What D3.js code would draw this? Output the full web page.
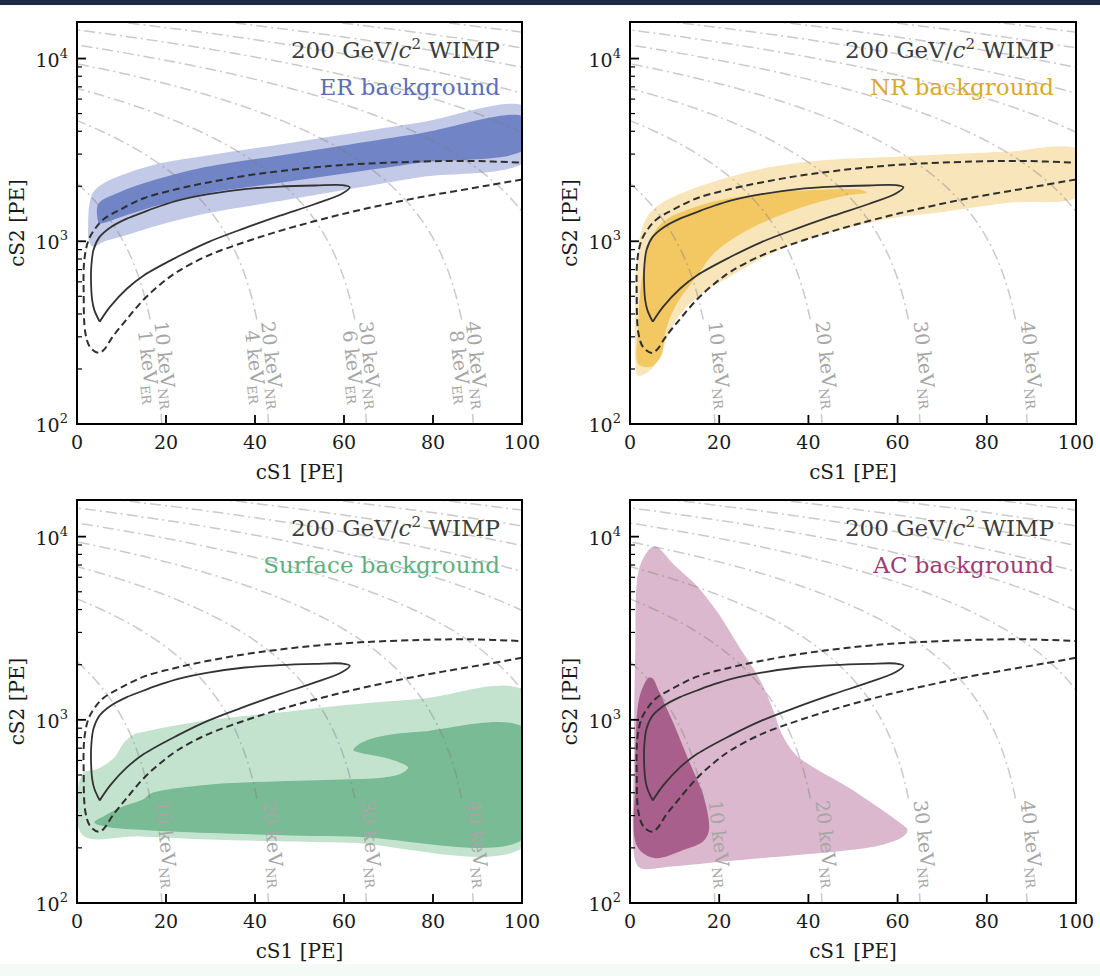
<!DOCTYPE html>
<html><head><meta charset="utf-8">
<script src="https://cdn.jsdelivr.net/npm/d3@7"></script>
<style>
body{margin:0;background:#fff}
svg{display:block}
text{font-family:"DejaVu Serif",serif}
</style>
</head><body>
<svg id="c" width="1100" height="976"></svg>
<script>
// ---------------- data ----------------
const xTicks = [0, 20, 40, 60, 80, 100];
const yDecades = [2, 3, 4];
const yMinorMultipliers = [2, 3, 4, 5, 6, 7, 8, 9];
// energy contours: cS1 intercept of each line (cS2 intercept = intercept * energySlope)
const energyIntercepts = [20, 44, 66, 90, 114, 138, 162, 186, 210, 234, 258, 282];
const energySlope = 104;
const energyLabelsNR = ["10", "20", "30", "40"];
const energyLabelsER = ["1", "4", "6", "8"];

const panelNames = ["ER background", "NR background", "Surface background", "AC background"];
const wimpTitle = ["200 GeV/", "c", "2", " WIMP"];

// WIMP 1 sigma (solid) contour, starts and ends at bottom tip
const wimpSolid = [[5.1,363],[3.9,420],[3.4,478],[3.15,600],[3.2,720],[3.7,895],[5.0,1050],[7.5,1190],[11.2,1330],[15,1445],[18.7,1560],[23,1680],[29.5,1810],[37.7,1930],[45.6,1990],[53.5,2020],[59.5,2030],[61.3,1975],[59.5,1820],[53.5,1600],[45.6,1380],[37.7,1180],[29.5,990],[22.5,820],[15,650],[11.2,550],[7.5,440],[5.1,363]];
// WIMP 2 sigma (dashed) contour, open curve
const wimpDashed = [[100,2180],[92.8,2030],[84.9,1880],[77,1740],[69.2,1590],[61.3,1440],[53.5,1290],[45.6,1140],[37.7,990],[29.2,830],[22.5,680],[18.7,580],[15,480],[11.2,375],[8,300],[6.0,254],[4.9,245],[3.0,262],[1.9,313],[1.5,519],[1.65,790],[2.6,1016],[4.1,1175],[6.0,1320],[9.7,1490],[15,1720],[22.5,1930],[29.5,2100],[37.7,2280],[45.6,2420],[53.5,2540],[61.3,2630],[77,2730],[88.8,2750],[100,2690]];

// background regions [cS1, cS2]
const erOuter = [[2.5,1250],[2.8,1600],[3.6,1850],[6.0,2075],[11.2,2355],[18.7,2670],[29.2,2950],[45.6,3390],[61.3,3890],[77,4470],[101,5400],[101,2790],[77,2240],[61.3,1930],[45.6,1660],[29.2,1422],[18.7,1230],[11.2,1082],[6.0,995],[3.6,935],[2.7,1000]];
const erInner = [[4.7,1300],[4.8,1600],[9.7,1860],[18.7,2210],[29.2,2560],[45.6,2950],[61.3,3390],[77,3890],[101,4750],[101,3240],[77,2690],[61.3,2370],[45.6,2090],[29.2,1830],[18.7,1585],[11.2,1393],[5.0,1254]];
const nrOuter = [[1.2,600],[1.6,760],[2.4,1100],[3.9,1370],[7.1,1620],[13.4,1910],[21.3,2210],[29.1,2480],[37,2670],[44.9,2790],[60.6,2910],[76.4,3030],[84.3,3090],[101,3130],[101,1800],[84.3,1620],[68.5,1430],[60.6,1360],[52.8,1250],[44.9,1110],[37,970],[29.1,795],[21.3,617],[17.3,540],[13.4,455],[9.4,340],[7.1,246],[4.7,198],[1.8,184],[1.2,220],[1.1,380]];
const nrInner = [[1.8,330],[1.9,212],[4.7,206],[7.0,236],[7.9,316],[10.2,442],[15,645],[18.9,863],[25.2,1110],[33.1,1370],[40.9,1600],[48.5,1780],[53.1,1850],[52,1905],[48.8,1930],[40,1900],[33.6,1865],[22.4,1720],[15,1550],[7.5,1280],[4.5,1016],[3.4,790],[2.4,560]];
const surfOuter = [[1.2,505],[4.7,540],[8.6,630],[10.2,730],[12.6,830],[15.7,867],[29.9,1000],[45.6,1096],[58.2,1190],[77,1300],[101,1405],[101,208],[61.3,213],[45.6,217],[29.9,222],[14.2,231],[1.2,236]];
const surfInner = [[3.9,275],[6.3,300],[10.2,335],[15,370],[16.5,395],[29.9,443],[45.6,462],[61.3,474],[69,485],[73.1,513],[74.4,550],[72.5,585],[69.2,620],[65,650],[62.1,685],[63,725],[65.3,775],[69.2,820],[77,860],[101,886],[101,231],[61.3,231],[29.9,241],[14.2,251],[6.3,262]];
const acOuter = [[4.7,8700],[2.6,7300],[1.6,5850],[1.2,2520],[0.9,718],[1.2,170],[2.4,155],[9.4,158],[21.3,169],[37,182],[48.8,194],[56.7,208],[61.4,232],[62.2,251],[60.6,273],[56.7,320],[48.8,430],[40.9,555],[37,650],[33.9,850],[32.3,1096],[29.1,1660],[24.4,2520],[19.7,3840],[15,5380],[9.4,7200],[7.1,8370],[5.8,8800]];
const acInner = [[4.3,1700],[2.6,1450],[1.6,1096],[1.2,472],[1.6,204],[5.5,176],[11.8,194],[16.5,218],[17.7,250],[16.5,383],[13.4,582],[9.4,1000],[6.3,1466],[5.1,1680]];

const regionsOuter = [erOuter, nrOuter, surfOuter, acOuter];
const regionsInner = [erInner, nrInner, surfInner, acInner];

// ---------------- styles / layout ----------------
const outerColors = ["#c3cae7", "#f8e5ba", "#c3e3cf", "#dbb8cd"];
const innerColors = ["#7084c6", "#f3c862", "#79bb94", "#a85f8c"];
const nameColors = ["#5c6eb6", "#d9a92c", "#5fae80", "#9b3d75"];
const layout = [
  {x:77, y:22, w:445, h:402},
  {x:630, y:22, w:446, h:402},
  {x:77, y:500, w:445, h:403},
  {x:630, y:500, w:446, h:403}
];

const svg = d3.select("#c");
svg.append("rect").attr("width",1100).attr("height",976).attr("fill","#fff");
svg.append("rect").attr("width",1100).attr("height",5).attr("fill","#1b2a45");
svg.append("rect").attr("y",964).attr("width",1100).attr("height",12).attr("fill","#f4fbf6");
const defs = svg.append("defs");

layout.forEach((L, i) => {
  const x = d3.scaleLinear().domain([0,100]).range([L.x, L.x+L.w]);
  const y = d3.scaleLog().domain([100, Math.pow(10,4.2)]).range([L.y+L.h, L.y]);
  const bottom = L.y + L.h;

  defs.append("clipPath").attr("id","clip"+i).append("rect")
    .attr("x",L.x).attr("y",L.y).attr("width",L.w).attr("height",L.h);
  const mask = defs.append("mask").attr("id","mask"+i).attr("maskUnits","userSpaceOnUse")
    .attr("x",0).attr("y",0).attr("width",1100).attr("height",976);
  mask.append("rect").attr("x",L.x-5).attr("y",L.y-5).attr("width",L.w+10).attr("height",L.h+10).attr("fill","#fff");

  const g = svg.append("g");
  const plot = g.append("g").attr("clip-path",`url(#clip${i})`);

  const area = d3.line().x(d=>x(d[0])).y(d=>y(d[1])).curve(d3.curveCatmullRomClosed.alpha(0.5));
  plot.append("path").attr("d", area(regionsOuter[i])).attr("fill", outerColors[i]);
  plot.append("path").attr("d", area(regionsInner[i])).attr("fill", innerColors[i]);

  // energy contour lines
  const eg = plot.append("g").attr("mask",`url(#mask${i})`);
  const lin = d3.line().x(d=>x(d[0])).y(d=>y(d[1]));
  energyIntercepts.forEach(A => {
    const B = A * energySlope;
    const pts = d3.range(0, 301).map(j => {
      const c2 = 100 * Math.pow(B/100, j/300);
      return [A*(1 - c2/B), c2];
    });
    eg.append("path").attr("d", lin(pts)).attr("fill","none")
      .attr("stroke","#7a7a7a").attr("stroke-opacity",0.4).attr("stroke-width",1.5)
      .attr("stroke-dasharray","11,4,2,4");
  });

  // inline labels
  energyLabelsNR.forEach((lab, k) => {
    const A = energyIntercepts[k], B = A*energySlope;
    const c2 = y.invert(bottom - 58);
    const px = c => [x(A*(1-c/B)), y(c)];
    const P = px(c2), P1 = px(c2*1.04), P2 = px(c2/1.04);
    const ang = Math.atan2(P2[1]-P1[1], P2[0]-P1[0]) * 180/Math.PI;
    const tr = `translate(${P[0]},${P[1]}) rotate(${ang})`;
    const lg = g.append("g").attr("transform", tr);
    const two = (i === 0);
    const lines = two ? [[lab,"NR",-8],[energyLabelsER[k],"ER",9]] : [[lab,"NR",-9]];
    lines.forEach(([v, sub, c]) => {
      const t = lg.append("text").attr("text-anchor","middle").attr("y", c+6)
        .attr("font-size",19).attr("fill","#a6a6a6");
      t.append("tspan").text(v + " keV");
      t.append("tspan").attr("font-size",13).attr("dy",4).text(sub);
    });
    const bb = lg.node().getBBox();
    mask.append("rect").attr("transform", tr)
      .attr("x", bb.x-3).attr("y", bb.y-1).attr("width", bb.width+6).attr("height", bb.height+2)
      .attr("fill","#000");
  });

  // WIMP contours
  const open = d3.line().x(d=>x(d[0])).y(d=>y(d[1])).curve(d3.curveCatmullRom.alpha(0.5));
  plot.append("path").attr("d", open(wimpDashed)).attr("fill","none")
    .attr("stroke","#2f2f2f").attr("stroke-width",2).attr("stroke-dasharray","7,4");
  plot.append("path").attr("d", open(wimpSolid)).attr("fill","none")
    .attr("stroke","#333").attr("stroke-width",1.8).attr("stroke-linejoin","miter");

  // titles
  const tx = L.x + L.w - 22;
  const t1 = g.append("text").attr("x",tx).attr("y",L.y+36).attr("text-anchor","end")
    .attr("font-size",23).attr("fill","#3c3c3c");
  t1.append("tspan").text(wimpTitle[0]);
  t1.append("tspan").attr("font-style","italic").text(wimpTitle[1]);
  t1.append("tspan").attr("font-size",15).attr("dy",-9).text(wimpTitle[2]);
  t1.append("tspan").attr("dy",9).text(wimpTitle[3]);
  g.append("text").attr("x",tx).attr("y",L.y+73).attr("text-anchor","end")
    .attr("font-size",23).attr("fill",nameColors[i]).text(panelNames[i]);

  // ticks
  xTicks.forEach(t => {
    g.append("line").attr("x1",x(t)).attr("x2",x(t)).attr("y1",bottom).attr("y2",bottom-9)
      .attr("stroke","#000").attr("stroke-width",1.8);
    g.append("text").attr("x",x(t)).attr("y",bottom+25).attr("text-anchor","middle")
      .attr("font-size",19).attr("fill","#1a1a1a").text(t);
  });
  yDecades.forEach(d => {
    const v = Math.pow(10,d);
    g.append("line").attr("x1",L.x).attr("x2",L.x+9).attr("y1",y(v)).attr("y2",y(v))
      .attr("stroke","#000").attr("stroke-width",1.8);
    const t = g.append("text").attr("x",L.x-9).attr("y",y(v)+8).attr("text-anchor","end")
      .attr("font-size",19).attr("fill","#1a1a1a");
    t.append("tspan").text("10");
    t.append("tspan").attr("font-size",13).attr("dy",-9).text(d);
    yMinorMultipliers.forEach(m => {
      const mv = m*v;
      if (mv < y.domain()[1]) {
        g.append("line").attr("x1",L.x).attr("x2",L.x+5).attr("y1",y(mv)).attr("y2",y(mv))
          .attr("stroke","#000").attr("stroke-width",1.2);
      }
    });
  });
  g.append("rect").attr("x",L.x).attr("y",L.y).attr("width",L.w).attr("height",L.h)
    .attr("fill","none").attr("stroke","#000").attr("stroke-width",2);

  // axis labels
  g.append("text").attr("x",L.x+L.w/2).attr("y",bottom+55).attr("text-anchor","middle")
    .attr("font-size",20).attr("fill","#1a1a1a").text("cS1 [PE]");
  g.append("text").attr("transform",`translate(${L.x-53},${L.y+L.h/2}) rotate(-90)`)
    .attr("text-anchor","middle").attr("font-size",20).attr("fill","#1a1a1a").text("cS2 [PE]");
});
</script>
</body></html>
